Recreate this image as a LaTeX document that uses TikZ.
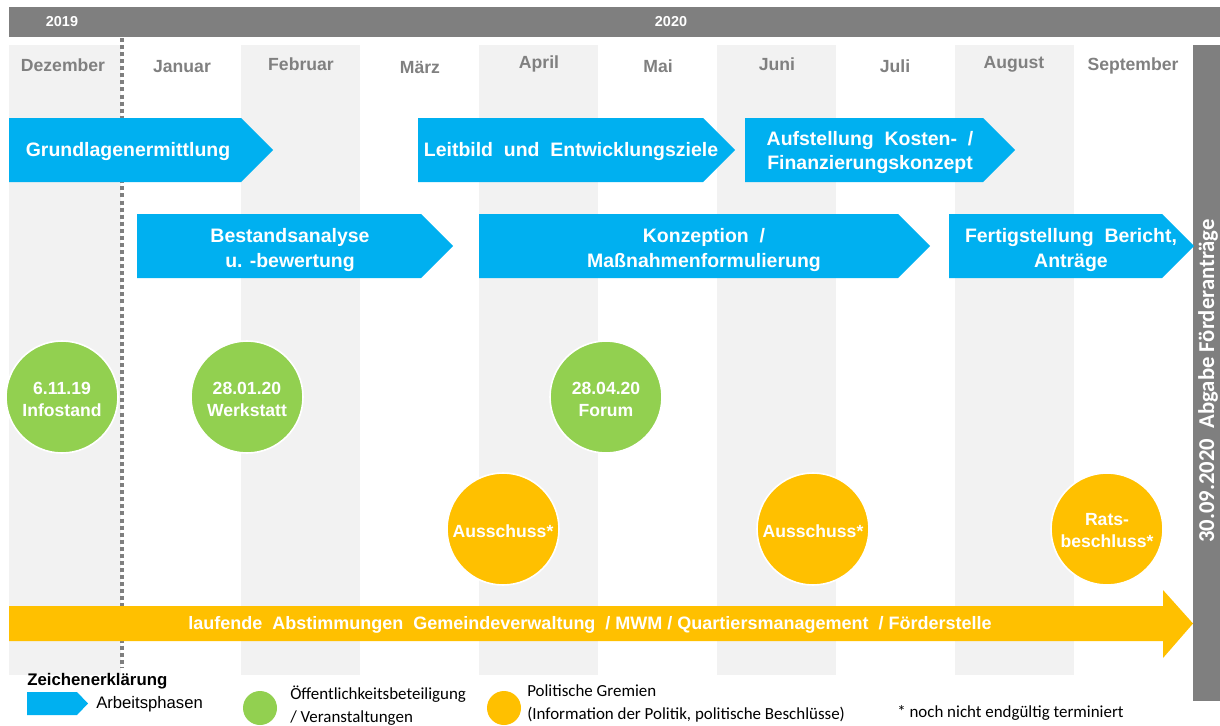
\documentclass[tikz,border=0pt]{standalone}
\usepackage{fontspec}
\setmainfont{Liberation Sans}
\newfontfamily\calib{Carlito}
\definecolor{phaseblue}{HTML}{00B0F0}
\definecolor{pubgreen}{HTML}{92D050}
\definecolor{polorange}{HTML}{FFC000}
\definecolor{bargray}{HTML}{7F7F7F}
\definecolor{bandgray}{HTML}{F2F2F2}
\definecolor{monthgray}{HTML}{808080}
\newcommand{\phasearrow}[4]{%
  \fill[phasefill] (#1,#3) -- (#2,#3) -- ({#2+32},{(#3+#4)/2}) -- (#2,#4) -- (#1,#4) -- cycle;}
\tikzset{
  phasefill/.style={fill=phaseblue},
  phasetext/.style={text=white, font=\bfseries\fontsize{14.6}{18.75}\selectfont, align=center, inner sep=0},
  monthlabel/.style={text=monthgray, font=\bfseries\fontsize{13.2}{16}\selectfont, inner sep=0},
  yearlabel/.style={text=white, font=\bfseries\fontsize{10.8}{13}\selectfont, inner sep=0},
  eventtext/.style={text=white, align=center, inner sep=0, yshift=-1.5pt, font=\bfseries\fontsize{13.2}{16.5}\selectfont},
  greenevent/.style={circle, fill=pubgreen, draw=white, line width=1.2pt, minimum size=84pt, inner sep=0,
     label={[eventtext]center:{#1}}},
  orangeevent/.style={circle, fill=polorange, draw=white, line width=1.2pt, minimum size=84pt, inner sep=0,
     label={[eventtext]center:{#1}}},
  legendtext/.style={anchor=west, inner sep=0, align=left, font=\calib\fontsize{12.7}{17.25}\selectfont},
}
\begin{document}
\begin{tikzpicture}[x=0.75pt,y=-0.75pt]
\useasboundingbox (0,0) rectangle (1220,725);
% month bands
\foreach \a/\b in {9/121,241/360,479/598,717/836,955/1074}
  \fill[bandgray] (\a,45) rectangle (\b,675);
% top bar and right bar
\fill[bargray] (9,7) rectangle (1220,37);
\fill[bargray] (1193,45) rectangle (1220,701);
\node[yearlabel] (y2019) at (62,22) {2019};
\node[yearlabel] (y2020) at (671,22) {2020};
% year divider
\draw[bargray, line width=2.4pt, dash pattern=on 3pt off 2.3pt] (122,38) -- (122,668);
% months
\node[monthlabel] (m12) at (63,65) {Dezember};
\node[monthlabel] (m01) at (182,67) {Januar};
\node[monthlabel] (m02) at (301,64) {Februar};
\node[monthlabel] (m03) at (420,67) {März};
\node[monthlabel] (m04) at (539,64) {April};
\node[monthlabel] (m05) at (658,66) {Mai};
\node[monthlabel] (m06) at (777,64) {Juni};
\node[monthlabel] (m07) at (895,66) {Juli};
\node[monthlabel] (m08) at (1014,64) {August};
\node[monthlabel] (m09) at (1133,66) {September};
% phases
\phasearrow{9}{241}{118}{182}
\phasearrow{137}{421}{214}{278}
\phasearrow{418}{703}{118}{182}
\phasearrow{745}{983}{118}{182}
\phasearrow{479}{898}{214}{278}
\phasearrow{949}{1162}{214}{278}
\node[phasetext] (grund) at (128,152) {Grundlagenermittlung};
\node[phasetext] (bestand) at (290,250) {Bestandsanalyse\\u. -bewertung};
\node[phasetext] (leitbild) at (571,152) {Leitbild\ \ und\ \ Entwicklungsziele};
\node[phasetext, font=\bfseries\fontsize{14.6}{18}\selectfont] (aufst) at (870,153) {Aufstellung\ \ Kosten-\ \ /\\Finanzierungskonzept};
\node[phasetext] (konz) at (704,250) {Konzeption\ \ /\\Maßnahmenformulierung};
\node[phasetext] (fertig) at (1071,250) {Fertigstellung\ \ Bericht,\\Anträge};
% events
\node[greenevent={6.11.19\\Infostand}] (infostand) at (62,397) {};
\node[greenevent={28.01.20\\Werkstatt}] (werkstatt) at (247,397) {};
\node[greenevent={28.04.20\\Forum}] (forum) at (606,397) {};
\node[orangeevent={Ausschuss*}] (aus1) at (503,529) {};
\node[orangeevent={Ausschuss*}] (aus2) at (813,529) {};
\node[orangeevent={Rats-\\beschluss*}] (rats) at (1107,529) {};
% ongoing coordination arrow
\fill[polorange] (9,606) -- (1163,606) -- (1163,590) -- (1193,623.5) -- (1163,658) -- (1163,641) -- (9,641) -- cycle;
\node[text=white, font=\bfseries\fontsize{13.5}{16}\selectfont, inner sep=0] (laufend) at (590,625)
  {laufende\ \ Abstimmungen\ \ Gemeindeverwaltung\ \ / MWM / Quartiersmanagement\ \ / Förderstelle};
% deadline
\node[rotate=90, text=white, font=\calib\bfseries\fontsize{17}{20}\selectfont, inner sep=0] (abgabe) at (1208,381)
  {30.09.2020\ \ Abgabe Förderanträge};
% legend
\node[anchor=west, inner sep=0, font=\bfseries\fontsize{12.6}{15}\selectfont] (legtitle) at (27,681) {Zeichenerklärung};
\fill[phasefill] (27,692) -- (77,692) -- (88,703.5) -- (77,715) -- (27,715) -- cycle;
\node[anchor=west, inner sep=0, font=\fontsize{12.5}{15}\selectfont] (legphase) at (96,704) {Arbeitsphasen};
\node[circle, fill=pubgreen, minimum size=25.5pt, inner sep=0] (leggreen) at (260,708) {};
\node[legendtext] (legpub) at (290,705.5) {Öffentlichkeitsbeteiligung\\/ Veranstaltungen};
\node[circle, fill=polorange, minimum size=25.5pt, inner sep=0] (legorange) at (504,708) {};
\node[legendtext] (legpol) at (527,703) {Politische Gremien\\(Information der Politik, politische Beschlüsse)};
\node[legendtext] (legstar) at (897,713) {* noch nicht endgültig terminiert};
\end{tikzpicture}
\end{document}
